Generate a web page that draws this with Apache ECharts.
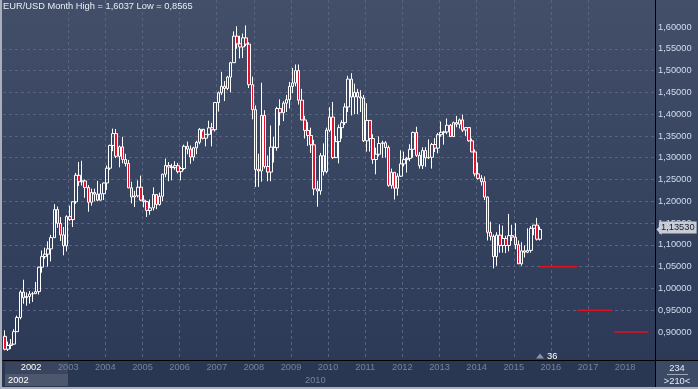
<!DOCTYPE html>
<html><head><meta charset="utf-8">
<script src="https://cdn.jsdelivr.net/npm/echarts@6/dist/echarts.min.js"></script>
<style>html,body{margin:0;padding:0;background:#2b3956;}#c{width:698px;height:389px;}</style>
</head><body><div id="c"></div>
<script>
// Monthly EUR/USD candles, each row: [open, close, low, high]
const y2002 = [[0.8900,0.8604,0.8578,0.9040],[0.8604,0.8690,0.8565,0.8780],[0.8690,0.8721,0.8610,0.8838],[0.8721,0.9007,0.8710,0.9062],[0.9007,0.9332,0.9000,0.9377],[0.9332,0.9915,0.9290,0.9960],[0.9915,0.9787,0.9650,1.0200],[0.9787,0.9815,0.9603,0.9910],[0.9815,0.9871,0.9650,0.9940],[0.9871,0.9880,0.9690,0.9920],[0.9880,0.9927,0.9870,1.0150],[0.9927,1.0487,0.9860,1.0500]];
const y2003 = [[1.0487,1.0730,1.0360,1.0870],[1.0730,1.0786,1.0680,1.0936],[1.0786,1.0908,1.0500,1.1080],[1.0908,1.1166,1.0620,1.1230],[1.1166,1.1810,1.1160,1.1935],[1.1810,1.1494,1.1390,1.1880],[1.1494,1.1229,1.1090,1.1640],[1.1229,1.0977,1.0760,1.1410],[1.0977,1.1648,1.0850,1.1680],[1.1648,1.1580,1.1550,1.1900],[1.1580,1.1989,1.1410,1.2000],[1.1989,1.2597,1.1940,1.2650]];
const y2004 = [[1.2597,1.2449,1.2350,1.2900],[1.2449,1.2468,1.2360,1.2930],[1.2468,1.2315,1.2080,1.2500],[1.2315,1.1978,1.1760,1.2370],[1.1978,1.2203,1.1900,1.2290],[1.2203,1.2165,1.2000,1.2290],[1.2165,1.2025,1.2000,1.2470],[1.2025,1.2174,1.2030,1.2400],[1.2174,1.2420,1.2030,1.2430],[1.2420,1.2760,1.2260,1.2820],[1.2760,1.3282,1.2720,1.3300],[1.3282,1.3554,1.3150,1.3667]];
const y2005 = [[1.3554,1.3032,1.2990,1.3660],[1.3032,1.3249,1.2780,1.3280],[1.3249,1.2959,1.2870,1.3480],[1.2959,1.2867,1.2800,1.3090],[1.2867,1.2309,1.2300,1.2950],[1.2309,1.2099,1.1950,1.2450],[1.2099,1.2124,1.1870,1.2240],[1.2124,1.2323,1.2090,1.2480],[1.2323,1.2026,1.2000,1.2590],[1.2026,1.1992,1.1860,1.2140],[1.1992,1.1790,1.1640,1.2010],[1.1790,1.1849,1.1690,1.2040]];
const y2006 = [[1.1849,1.2156,1.1790,1.2320],[1.2156,1.1925,1.1820,1.2160],[1.1925,1.2116,1.1900,1.2200],[1.2116,1.2623,1.2000,1.2630],[1.2623,1.2823,1.2550,1.2980],[1.2823,1.2786,1.2460,1.2900],[1.2786,1.2772,1.2480,1.2860],[1.2772,1.2817,1.2720,1.2920],[1.2817,1.2680,1.2640,1.2880],[1.2680,1.2751,1.2480,1.2790],[1.2751,1.3262,1.2710,1.3300],[1.3262,1.3199,1.3080,1.3370]];
const y2007 = [[1.3199,1.3017,1.2860,1.3280],[1.3017,1.3227,1.2930,1.3250],[1.3227,1.3355,1.3080,1.3390],[1.3355,1.3652,1.3310,1.3680],[1.3652,1.3447,1.3420,1.3600],[1.3447,1.3537,1.3260,1.3540],[1.3537,1.3686,1.3510,1.3850],[1.3686,1.3642,1.3260,1.3800],[1.3642,1.4267,1.3600,1.4280],[1.4267,1.4490,1.4060,1.4520],[1.4490,1.4640,1.4440,1.4970],[1.4640,1.4590,1.4300,1.4760]];
const y2008 = [[1.4590,1.4851,1.4550,1.4880],[1.4851,1.5181,1.4500,1.5200],[1.5181,1.5790,1.5190,1.5900],[1.5790,1.5614,1.5500,1.6018],[1.5614,1.5542,1.5280,1.5800],[1.5542,1.5751,1.5290,1.5850],[1.5751,1.5607,1.5560,1.6037],[1.5607,1.4676,1.4600,1.5650],[1.4676,1.4102,1.3880,1.4860],[1.4102,1.2732,1.2330,1.4200],[1.2732,1.2696,1.2330,1.3090],[1.2696,1.3971,1.2450,1.4720]];
const y2009 = [[1.3971,1.2798,1.2750,1.4090],[1.2798,1.2671,1.2460,1.3050],[1.2671,1.3244,1.2460,1.3740],[1.3244,1.3230,1.2890,1.3480],[1.3230,1.4129,1.3160,1.4170],[1.4129,1.4032,1.3740,1.4340],[1.4032,1.4253,1.3840,1.4300],[1.4253,1.4331,1.4050,1.4440],[1.4331,1.4637,1.4130,1.4740],[1.4637,1.4716,1.4480,1.5060],[1.4716,1.5000,1.4640,1.5140],[1.5000,1.4321,1.4220,1.5140]];
const y2010 = [[1.4321,1.3867,1.3860,1.4580],[1.3867,1.3627,1.3440,1.3960],[1.3627,1.3510,1.3270,1.3820],[1.3510,1.3296,1.3110,1.3690],[1.3296,1.2283,1.2140,1.3410],[1.2283,1.2238,1.1876,1.2470],[1.2238,1.3047,1.2150,1.3110],[1.3047,1.2680,1.2590,1.3330],[1.2680,1.3633,1.2640,1.3690],[1.3633,1.3933,1.3590,1.4160],[1.3933,1.3002,1.2970,1.4280],[1.3002,1.3370,1.3020,1.3500]];
const y2011 = [[1.3370,1.3690,1.2870,1.3760],[1.3690,1.3805,1.3440,1.3860],[1.3805,1.4165,1.3750,1.4250],[1.4165,1.4805,1.4050,1.4880],[1.4805,1.4394,1.3970,1.4940],[1.4394,1.4500,1.4000,1.4700],[1.4500,1.4396,1.4000,1.4580],[1.4396,1.4370,1.4050,1.4550],[1.4370,1.3388,1.3360,1.4440],[1.3388,1.3856,1.3140,1.4250],[1.3856,1.3440,1.3140,1.3860],[1.3440,1.2960,1.2860,1.3540]];
const y2012 = [[1.2960,1.3080,1.2620,1.3230],[1.3080,1.3326,1.3030,1.3490],[1.3326,1.3343,1.3000,1.3390],[1.3343,1.3235,1.3000,1.3380],[1.3235,1.2365,1.2330,1.3280],[1.2365,1.2665,1.2290,1.2750],[1.2665,1.2300,1.2040,1.2670],[1.2300,1.2576,1.2130,1.2640],[1.2576,1.2859,1.2560,1.3170],[1.2859,1.2957,1.2800,1.3140],[1.2957,1.2985,1.2660,1.3020],[1.2985,1.3193,1.2920,1.3310]];
const y2013 = [[1.3193,1.3580,1.3000,1.3600],[1.3580,1.3055,1.3020,1.3710],[1.3055,1.2818,1.2750,1.3130],[1.2818,1.3165,1.2740,1.3240],[1.3165,1.2997,1.2790,1.3240],[1.2997,1.3010,1.2970,1.3420],[1.3010,1.3302,1.2750,1.3340],[1.3302,1.3220,1.3130,1.3450],[1.3220,1.3528,1.3100,1.3570],[1.3528,1.3583,1.3480,1.3830],[1.3583,1.3592,1.3300,1.3620],[1.3592,1.3745,1.3540,1.3900]];
const y2014 = [[1.3745,1.3485,1.3480,1.3770],[1.3485,1.3805,1.3480,1.3830],[1.3805,1.3770,1.3700,1.3960],[1.3770,1.3868,1.3670,1.3900],[1.3868,1.3633,1.3590,1.3990],[1.3633,1.3691,1.3500,1.3700],[1.3691,1.3388,1.3370,1.3700],[1.3388,1.3132,1.3130,1.3440],[1.3132,1.2630,1.2570,1.3190],[1.2630,1.2525,1.2500,1.2890],[1.2525,1.2451,1.2360,1.2600],[1.2451,1.2097,1.2030,1.2570]];
const y2015 = [[1.2097,1.1289,1.1100,1.2110],[1.1289,1.1196,1.1100,1.1530],[1.1196,1.0731,1.0460,1.1240],[1.0731,1.1223,1.0520,1.1290],[1.1223,1.0986,1.0820,1.1470],[1.0986,1.1146,1.0820,1.1440],[1.1146,1.0985,1.0810,1.1210],[1.0985,1.1212,1.0850,1.1710],[1.1212,1.1177,1.1090,1.1460],[1.1177,1.1004,1.0900,1.1500],[1.1004,1.0565,1.0560,1.1100],[1.0565,1.0862,1.0520,1.1060]];
const y2016 = [[1.0862,1.0831,1.0710,1.0990],[1.0831,1.0873,1.0810,1.1380],[1.0873,1.1380,1.0820,1.1430],[1.1380,1.1453,1.1220,1.1460],[1.1453,1.1130,1.1100,1.1620],[1.1130,1.1353,1.1100,1.1420]];

const yearLabels = ['2002','2003','2004','2005','2006','2007','2008','2009','2010','2011','2012','2013','2014','2015','2016','2017','2018'];
const priceTicks = [0.90,0.95,1.00,1.05,1.10,1.15,1.20,1.25,1.30,1.35,1.40,1.45,1.50,1.55,1.60];
const forecastLevel = [1.05, 0.95, 0.90];
const forecastFrom = [173, 185, 197];
const forecastTo = [185, 196, 208];
const lastPrice = 1.1353;
const barsLabel = '36';
const cornerTop = '234';
const cornerBottom = '>210<';
const instrument = 'EUR/USD';
const period = 'Month';

const rows = [].concat(y2002,y2003,y2004,y2005,y2006,y2007,y2008,y2009,y2010,y2011,y2012,y2013,y2014,y2015,y2016);
const candles = rows.map((r, i) => [i, r[0], r[1], r[2], r[3]]);
const hi = Math.max(...rows.map(r => r[3]));
const lo = Math.min(...rows.map(r => r[2]));
const comma = (v, d) => v.toFixed(d).replace('.', ',');

const X_MIN = -0.58, X_MAX = 210.15, Y_MIN = 0.8357, Y_MAX = 1.6620;
const yearTickPos = yearLabels.map((_, k) => 8.5 + 12 * k);
const FONT = 'Liberation Sans, Arial, sans-serif';
const FS = 9.3;

const chart = echarts.init(document.getElementById('c'), null, {renderer: 'canvas'});
const forecastSeries = forecastLevel.map((lv, k) => ({
  type: 'line', silent: true, symbol: 'none', animation: false,
  data: [[forecastFrom[k], lv], [forecastTo[k], lv]],
  lineStyle: {color: '#e0101c', width: 1.5}, z: 3
}));
const gridLine = {show: true, showMinLine: false, showMaxLine: false, lineStyle: {color: '#58647e', type: [3, 3], width: 1}};

chart.setOption({
  animation: false,
  backgroundColor: {type: 'linear', x: 0, y: 0, x2: 0, y2: 1, colorStops: [{offset: 0, color: '#434f69'}, {offset: 1, color: '#2a3856'}]},
  title: {
    text: `${instrument} ${period} High = ${comma(hi, 4)} Low = ${comma(lo, 4)}`,
    left: 3, top: 2, padding: 0,
    textStyle: {color: '#e6edf8', fontSize: FS, fontWeight: 'normal', fontFamily: FONT}
  },
  grid: {left: 3, right: 43, top: 0, bottom: 29, containLabel: false},
  xAxis: {
    type: 'value', min: X_MIN, max: X_MAX,
    axisLine: {show: true, onZero: false, lineStyle: {color: '#000000', width: 1}},
    axisTick: {show: false, customValues: yearTickPos},
    axisLabel: {
      customValues: yearTickPos, margin: 3,
      formatter: v => yearLabels[Math.round((v - 8.5) / 12)],
      color: v => (v < 10 ? '#ffffff' : '#76839c'),
      fontSize: FS, fontFamily: FONT
    },
    splitLine: gridLine
  },
  yAxis: {
    type: 'value', position: 'right', min: Y_MIN, max: Y_MAX, scale: true,
    axisLine: {show: true, onZero: false, lineStyle: {color: '#000000', width: 1}},
    axisTick: {show: false, customValues: priceTicks},
    axisLabel: {
      customValues: priceTicks, margin: 3, inside: false,
      formatter: v => comma(v, 5),
      color: '#cfdcf0', fontSize: FS, fontFamily: FONT
    },
    splitLine: gridLine
  },
  series: [{
    type: 'candlestick',
    data: candles,
    encode: {x: 0, y: [1, 2, 3, 4]},
    barWidth: 3,
    itemStyle: {color: 'rgba(0,0,0,0)', color0: '#e3132e', borderColor: '#ffffff', borderColor0: '#ffffff', borderWidth: 1},
    z: 4,
    markLine: {
      silent: true, symbol: 'none', animation: false,
      data: [{yAxis: lastPrice}],
      lineStyle: {color: 'rgba(0,0,0,0)', width: 1, type: 'solid'},
      label: {show: true, position: 'end', distance: 4, formatter: () => comma(lastPrice, 5),
        backgroundColor: '#c9cdd5', color: '#141c2c', padding: [2, 2, 1, 2], fontSize: FS, fontFamily: FONT, opacity: 1}
    },
    markPoint: {
      silent: true, animation: false,
      data: [
        {coord: [candles.length - 1, Y_MIN], symbol: 'triangle', symbolSize: [8, 5], symbolOffset: [0, -4],
          itemStyle: {color: '#8893a6'},
          label: {show: true, position: 'right', distance: 3, formatter: barsLabel, color: '#ffffff', fontSize: FS, fontFamily: FONT}},
        {coord: [X_MAX, lastPrice], symbol: 'triangle', symbolRotate: 90, symbolSize: [11, 5], symbolOffset: [4, 0],
          itemStyle: {color: '#c9cdd5'}, label: {show: false}}
      ]
    }
  }].concat(forecastSeries),
  graphic: [
    {type: 'rect', z: -10, shape: {x: 0, y: 361, width: 698, height: 28}, style: {fill: '#2a3752'}},
    {type: 'rect', z: -9, shape: {x: 5, y: 362, width: 63, height: 12}, style: {fill: 'rgba(255,255,255,0.07)'}},
    {type: 'rect', z: -9, shape: {x: 5, y: 374, width: 63, height: 12}, style: {fill: 'rgba(255,255,255,0.16)'}},
    {type: 'text', z: 10, style: {x: 8, y: 380, text: yearLabels[0], fill: '#ffffff', font: `${FS}px ${FONT}`, verticalAlign: 'middle'}},
    {type: 'text', z: 10, style: {x: 305, y: 380, text: yearLabels[8], fill: '#76839c', font: `${FS}px ${FONT}`, verticalAlign: 'middle'}},
    {type: 'rect', z: -8, shape: {x: 656, y: 361, width: 42, height: 26}, style: {fill: '#3d4a66'}},
    {type: 'text', z: 10, style: {x: 677, y: 368, text: cornerTop, fill: '#e6edf8', font: `${FS}px ${FONT}`, align: 'center', verticalAlign: 'middle'}},
    {type: 'line', z: 10, shape: {x1: 667, y1: 374.5, x2: 688, y2: 374.5}, style: {stroke: '#9aa4b6', lineWidth: 1}},
    {type: 'text', z: 10, style: {x: 677, y: 381, text: cornerBottom, fill: '#e6edf8', font: `${FS}px ${FONT}`, align: 'center', verticalAlign: 'middle'}},
    {type: 'line', z: 10, shape: {x1: 655, y1: 360.5, x2: 698, y2: 360.5}, style: {stroke: '#000000', lineWidth: 1}},
    {type: 'line', z: 10, shape: {x1: 655.5, y1: 360, x2: 655.5, y2: 387}, style: {stroke: '#000000', lineWidth: 1}},
    {type: 'rect', z: 10, shape: {x: 0, y: 0, width: 2, height: 389}, style: {fill: '#a9b0bc'}},
    {type: 'rect', z: 10, shape: {x: 0, y: 387, width: 698, height: 2}, style: {fill: '#a9b0bc'}}
  ]
});
</script></body></html>
